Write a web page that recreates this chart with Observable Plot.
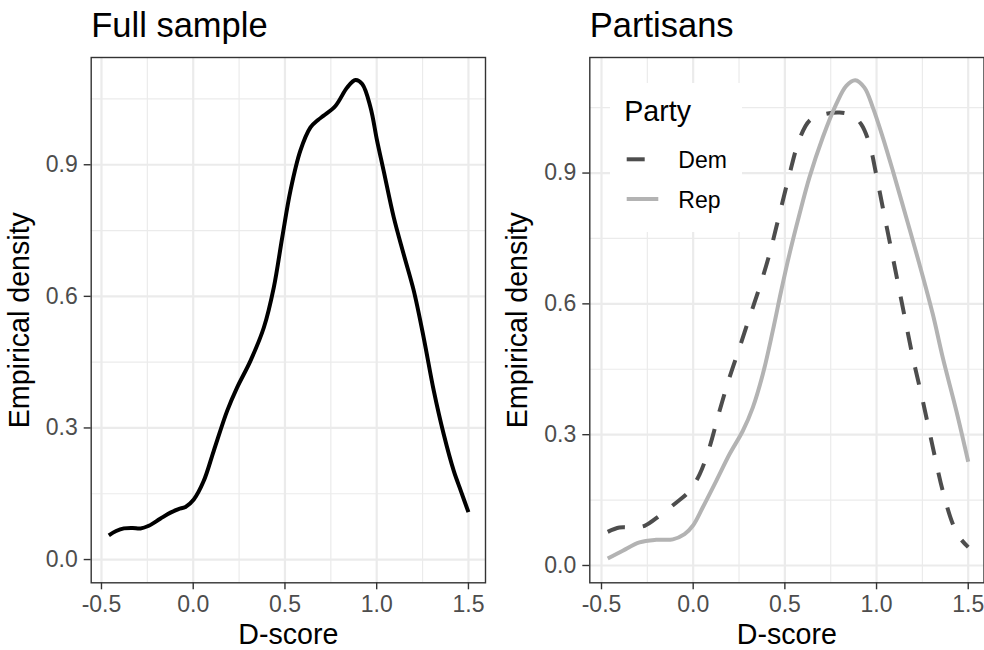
<!DOCTYPE html>
<html>
<head>
<meta charset="utf-8">
<script src="https://cdn.jsdelivr.net/npm/d3@7"></script>
<script src="https://cdn.jsdelivr.net/npm/@observablehq/plot@0.6"></script>
<style>
  body { margin: 0; background: #fff; }
  #chart { position: relative; width: 984px; height: 650px; overflow: hidden;
           font-family: "Liberation Sans", Arial, Helvetica, sans-serif; }
  #chart > svg { position: absolute; top: 0; }
  #legend { position: absolute; left: 610px; top: 83px; width: 132px; height: 149px; background: #fff; }
</style>
</head>
<body>
<div id="chart"></div>
<script>
// Kernel density estimates of the D-score, full sample
const fullX = [-0.46, -0.42, -0.378, -0.33, -0.287, -0.242, -0.18, -0.124, -0.08, -0.042, 0.003, 0.057, 0.112, 0.185, 0.239, 0.312, 0.385, 0.439, 0.485, 0.53, 0.584, 0.639, 0.68, 0.711, 0.775, 0.839, 0.884, 0.921, 0.966, 1.002, 1.038, 1.093, 1.147, 1.202, 1.256, 1.311, 1.365, 1.42, 1.46, 1.5];
const fullY = [0.055, 0.065, 0.071, 0.072, 0.071, 0.077, 0.093, 0.107, 0.115, 0.120, 0.137, 0.179, 0.248, 0.339, 0.392, 0.453, 0.529, 0.620, 0.734, 0.841, 0.932, 0.985, 1.002, 1.012, 1.034, 1.076, 1.093, 1.084, 1.031, 0.955, 0.886, 0.780, 0.696, 0.613, 0.506, 0.385, 0.286, 0.202, 0.155, 0.108];

// Democrats
const demX = [-0.466, -0.402, -0.329, -0.265, -0.184, -0.093, -0.02, 0.035, 0.089, 0.144, 0.198, 0.253, 0.307, 0.362, 0.416, 0.471, 0.525, 0.58, 0.634, 0.707, 0.798, 0.871, 0.916, 0.962, 0.998, 1.034, 1.089, 1.143, 1.198, 1.252, 1.307, 1.361, 1.416, 1.453, 1.5];
const demY = [0.077, 0.087, 0.087, 0.091, 0.114, 0.144, 0.171, 0.209, 0.271, 0.355, 0.431, 0.500, 0.569, 0.638, 0.714, 0.806, 0.897, 0.978, 1.020, 1.034, 1.039, 1.031, 1.012, 0.966, 0.897, 0.821, 0.706, 0.592, 0.477, 0.378, 0.271, 0.171, 0.095, 0.064, 0.042];

// Republicans
const repX = [-0.466, -0.384, -0.293, -0.202, -0.111, -0.047, -0.002, 0.052, 0.126, 0.198, 0.271, 0.325, 0.38, 0.434, 0.48, 0.525, 0.58, 0.634, 0.707, 0.78, 0.835, 0.884, 0.934, 0.98, 1.034, 1.089, 1.162, 1.234, 1.307, 1.361, 1.435, 1.5];
const repY = [0.016, 0.034, 0.053, 0.059, 0.060, 0.072, 0.091, 0.133, 0.194, 0.255, 0.309, 0.362, 0.439, 0.538, 0.630, 0.714, 0.806, 0.890, 0.982, 1.058, 1.100, 1.113, 1.096, 1.050, 0.982, 0.905, 0.798, 0.691, 0.576, 0.477, 0.355, 0.238];

const parties = ["Dem", "Rep"];
const partyColors = ["#4D4D4D", "#B3B3B3"];
const partyDash = ["18,18", null];
const legendTitle = "Party";

const xTicks = [-0.5, 0, 0.5, 1, 1.5];
const xMinor = [-0.25, 0.25, 0.75, 1.25];
const yTicks = [0, 0.3, 0.6, 0.9];
const yMinor = [0.15, 0.45, 0.75, 1.05];

const panelTitles = ["Full sample", "Partisans"];
const xLabel = "D-score";
const yLabel = "Empirical density";

const FONT = '"Liberation Sans", Arial, Helvetica, sans-serif';
const zip = (xs, ys) => xs.map((x, i) => ({x, y: ys[i]}));

function panel({width, marginLeft, marginRight, title, xDomain, yDomain, marks, color}) {
  return Plot.plot({
    width, height: 650,
    marginLeft, marginRight, marginTop: 57, marginBottom: 67.7,
    style: {fontFamily: FONT, fontSize: "23px", background: "transparent", overflow: "visible"},
    x: {domain: xDomain},
    y: {domain: yDomain},
    color,
    marks: [
      Plot.gridX(xMinor, {stroke: "#EBEBEB", strokeOpacity: 1, strokeWidth: 1.2}),
      Plot.gridY(yMinor, {stroke: "#EBEBEB", strokeOpacity: 1, strokeWidth: 1.2}),
      Plot.gridX(xTicks, {stroke: "#EBEBEB", strokeOpacity: 1, strokeWidth: 2.2}),
      Plot.gridY(yTicks, {stroke: "#EBEBEB", strokeOpacity: 1, strokeWidth: 2.2}),
      ...marks,
      Plot.frame({stroke: "#333", strokeWidth: 1.4}),
      Plot.axisX(xTicks, {tickFormat: d => d.toFixed(1), tickSize: 7, tickPadding: 5.7,
        stroke: "#333", strokeWidth: 1.4, fill: "#4D4D4D", label: null, fontSize: 23}),
      Plot.axisY(yTicks, {tickFormat: d => d.toFixed(1), tickSize: 7, tickPadding: 6.5,
        stroke: "#333", strokeWidth: 1.4, fill: "#4D4D4D", label: null, fontSize: 23}),
      Plot.text([title], {text: d => d, frameAnchor: "top-left", textAnchor: "start",
        lineAnchor: "bottom", dy: -21, fontSize: 34.5, fill: "#000"}),
      Plot.text([xLabel], {text: d => d, frameAnchor: "bottom", textAnchor: "middle",
        lineAnchor: "bottom", dy: 61.3, fontSize: 28.6, fill: "#000"}),
      Plot.text([yLabel], {text: d => d, frameAnchor: "left", textAnchor: "middle",
        lineAnchor: "bottom", rotate: -90, dx: -62.5, fontSize: 28.6, fill: "#000"})
    ]
  });
}

const chart = document.getElementById("chart");

// Left panel: whole sample
const left = panel({
  width: 490, marginLeft: 90.7, marginRight: 5,
  title: panelTitles[0],
  xDomain: [-0.556, 1.593], yDomain: [-0.053, 1.1445],
  marks: [
    Plot.line(zip(fullX, fullY), {x: "x", y: "y", stroke: "#000", strokeWidth: 4,
      curve: "catmull-rom", strokeLinecap: "butt", strokeLinejoin: "round"})
  ]
});
left.style.left = "0px";
chart.appendChild(left);

// Right panel: split by party
const right = panel({
  width: 494, marginLeft: 99.3, marginRight: 0.5,
  title: panelTitles[1],
  xDomain: [-0.5638, 1.586], yDomain: [-0.0397, 1.165],
  color: {domain: parties, range: partyColors},
  marks: [
    Plot.line(zip(demX, demY), {x: "x", y: "y", stroke: () => parties[0], strokeWidth: 4,
      strokeDasharray: partyDash[0], curve: "catmull-rom", strokeLinecap: "butt", strokeLinejoin: "round"}),
    Plot.line(zip(repX, repY), {x: "x", y: "y", stroke: () => parties[1], strokeWidth: 4,
      curve: "catmull-rom", strokeLinecap: "butt", strokeLinejoin: "round"})
  ]
});
right.style.left = "490px";
chart.appendChild(right);

// Legend box inside the right panel
const colorScale = right.scale("color");
const legendDiv = document.createElement("div");
legendDiv.id = "legend";
chart.appendChild(legendDiv);
const lg = d3.select(legendDiv).append("svg").attr("width", 132).attr("height", 149)
  .style("font-family", FONT);
lg.append("text").attr("x", 14.3).attr("y", 37.7).attr("font-size", 28.6).attr("fill", "#000").text(legendTitle);
parties.forEach((p, i) => {
  const cy = 76.3 + i * 39.7;
  lg.append("line").attr("x1", 16.7).attr("x2", 48.3).attr("y1", cy).attr("y2", cy)
    .attr("stroke", colorScale.apply(p)).attr("stroke-width", 4)
    .attr("stroke-dasharray", partyDash[i]);
  lg.append("text").attr("x", 68.3).attr("y", cy + 9).attr("font-size", 23).attr("fill", "#000").text(p);
});
</script>
</body>
</html>
